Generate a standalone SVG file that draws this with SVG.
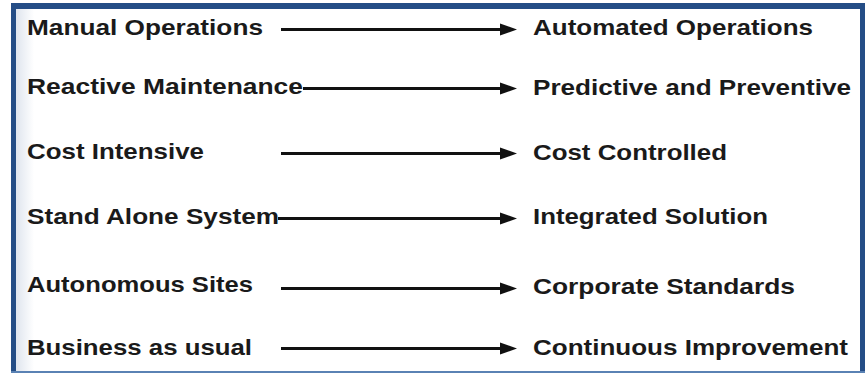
<svg xmlns="http://www.w3.org/2000/svg" width="865" height="375" viewBox="0 0 865 375">
<defs>
<linearGradient id="lg" x1="0" y1="0" x2="1" y2="0">
<stop offset="0" stop-color="#dfe5ee"/>
<stop offset="1" stop-color="#ffffff"/>
</linearGradient>
<marker id="ah" markerWidth="6" markerHeight="4" refX="0" refY="2" orient="auto" markerUnits="strokeWidth">
<path d="M0,0 L6,2 L0,4 Z" fill="#111"/>
</marker>
<style>
text{font-family:"Liberation Sans",Arial,sans-serif;font-size:22px;font-weight:bold;fill:#1a1a1a;}
.c line{stroke:#111;stroke-width:3;}
.c path{fill:#111;}
</style>
</defs>
<rect x="0" y="0" width="865" height="375" fill="#ffffff"/>
<rect x="16" y="9" width="18" height="362" fill="url(#lg)"/>
<g id="frame">
<rect x="11" y="3" width="854" height="6" fill="#244d86"/>
<rect x="11" y="3" width="5" height="369" fill="#244d86"/>
<rect x="860" y="3" width="5" height="369" fill="#244d86"/>
<rect x="11" y="371" width="854" height="2" fill="#5a82b4"/>
</g>
<g class="c" id="connectors">
<line x1="281" y1="29.5" x2="502" y2="29.5"/><path d="M500,23.5 L517,29.5 L500,35.5 Z"/>
<line x1="303" y1="88.5" x2="502" y2="88.5"/><path d="M500,82.5 L517,88.5 L500,94.5 Z"/>
<line x1="281" y1="153.5" x2="502" y2="153.5"/><path d="M500,147.5 L517,153.5 L500,159.5 Z"/>
<line x1="278" y1="218.5" x2="502" y2="218.5"/><path d="M500,212.5 L517,218.5 L500,224.5 Z"/>
<line x1="281" y1="288.5" x2="502" y2="288.5"/><path d="M500,282.5 L517,288.5 L500,294.5 Z"/>
<line x1="281" y1="348.5" x2="502" y2="348.5"/><path d="M500,342.5 L517,348.5 L500,354.5 Z"/>
</g>
<g id="n1l"><text x="27" y="35" textLength="236" lengthAdjust="spacingAndGlyphs">Manual Operations</text></g>
<g id="n1r"><text x="533" y="35" textLength="280" lengthAdjust="spacingAndGlyphs">Automated Operations</text></g>
<g id="n2l"><text x="27" y="94" textLength="276" lengthAdjust="spacingAndGlyphs">Reactive Maintenance</text></g>
<g id="n2r"><text x="533" y="95" textLength="318" lengthAdjust="spacingAndGlyphs">Predictive and Preventive</text></g>
<g id="n3l"><text x="27" y="159" textLength="177" lengthAdjust="spacingAndGlyphs">Cost Intensive</text></g>
<g id="n3r"><text x="533" y="160" textLength="194" lengthAdjust="spacingAndGlyphs">Cost Controlled</text></g>
<g id="n4l"><text x="27" y="224" textLength="252" lengthAdjust="spacingAndGlyphs">Stand Alone System</text></g>
<g id="n4r"><text x="533" y="224" textLength="235" lengthAdjust="spacingAndGlyphs">Integrated Solution</text></g>
<g id="n5l"><text x="27" y="292" textLength="226" lengthAdjust="spacingAndGlyphs">Autonomous Sites</text></g>
<g id="n5r"><text x="533" y="294" textLength="262" lengthAdjust="spacingAndGlyphs">Corporate Standards</text></g>
<g id="n6l"><text x="27" y="355" textLength="225" lengthAdjust="spacingAndGlyphs">Business as usual</text></g>
<g id="n6r"><text x="533" y="355" textLength="315" lengthAdjust="spacingAndGlyphs">Continuous Improvement</text></g>
</svg>
